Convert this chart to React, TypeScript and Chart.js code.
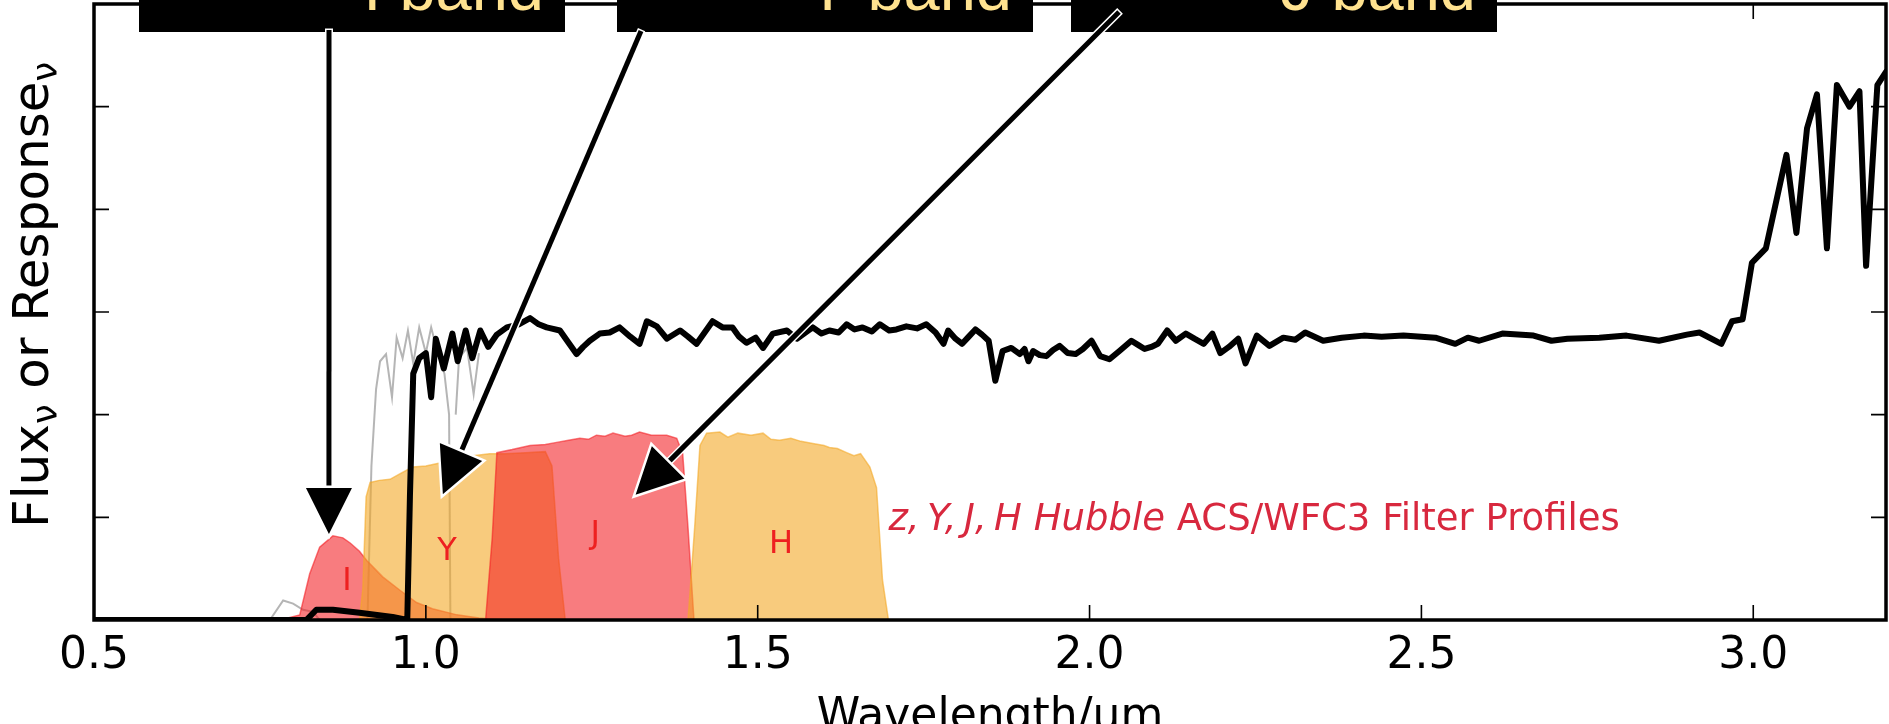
import React, { useEffect, useRef } from "react";
import { Chart, registerables } from "chart.js";

Chart.register(...registerables);

// ---- axis ticks ----
const xTickValues = [0.5, 1.0, 1.5, 2.0, 2.5, 3.0];
const yTickValues = [0, 1, 2, 3, 4, 5, 6];

// ---- observed spectrum (black) ----
const spectrumWavelength = [
  0.5, 0.82, 0.835, 0.86, 0.9, 0.95, 0.972, 0.976, 0.981, 0.99, 1.0, 1.008, 1.015, 1.027, 1.04, 1.048,
  1.06, 1.07, 1.082, 1.094, 1.107, 1.122, 1.14, 1.157, 1.17, 1.182, 1.202, 1.215, 1.227, 1.237, 1.247,
  1.262, 1.277, 1.292, 1.308, 1.322, 1.333, 1.348, 1.363, 1.383, 1.395, 1.408, 1.42, 1.432, 1.447, 1.462,
  1.472, 1.483, 1.497, 1.508, 1.523, 1.544, 1.559, 1.572, 1.583, 1.596, 1.608, 1.622, 1.634, 1.646, 1.658,
  1.672, 1.684, 1.698, 1.709, 1.724, 1.74, 1.754, 1.768, 1.78, 1.787, 1.798, 1.808, 1.818, 1.828, 1.838,
  1.848, 1.858, 1.869, 1.882, 1.895, 1.902, 1.908, 1.915, 1.925, 1.935, 1.945, 1.955, 1.967, 1.979, 1.99,
  2.003, 2.016, 2.03, 2.045, 2.063, 2.073, 2.083, 2.093, 2.103, 2.117, 2.13, 2.145, 2.158, 2.172, 2.185,
  2.197, 2.21, 2.224, 2.235, 2.252, 2.271, 2.292, 2.31, 2.325, 2.352, 2.38, 2.413, 2.44, 2.473, 2.5,
  2.521, 2.551, 2.57, 2.587, 2.622, 2.669, 2.696, 2.72, 2.768, 2.809, 2.858, 2.9, 2.919, 2.952, 2.968,
  2.984, 2.998, 3.019, 3.05, 3.065, 3.081, 3.096, 3.111, 3.126, 3.145, 3.16, 3.17, 3.187, 3.2,
];
const spectrumFlux = [
  0, 0, 0.1, 0.1, 0.07, 0.03, 0.0, 1.2, 2.4, 2.55, 2.6, 2.17, 2.74, 2.45, 2.79, 2.52,
  2.82, 2.55, 2.82, 2.66, 2.78, 2.85, 2.88, 2.94, 2.88, 2.85, 2.82, 2.7, 2.59, 2.66, 2.72,
  2.79, 2.8, 2.85, 2.76, 2.69, 2.91, 2.86, 2.74, 2.82, 2.76, 2.69, 2.8, 2.91, 2.85, 2.85,
  2.76, 2.7, 2.75, 2.65, 2.79, 2.82, 2.74, 2.8, 2.85, 2.79, 2.82, 2.8, 2.88, 2.83, 2.85,
  2.81, 2.88, 2.82, 2.83, 2.86, 2.84, 2.88, 2.8, 2.69, 2.82, 2.74, 2.69, 2.76, 2.83, 2.78,
  2.72, 2.33, 2.62, 2.65, 2.59, 2.64, 2.52, 2.62, 2.58, 2.57, 2.63, 2.67, 2.6, 2.59, 2.64,
  2.72, 2.57, 2.54, 2.62, 2.72, 2.68, 2.64, 2.66, 2.69, 2.82, 2.72, 2.79, 2.74, 2.69, 2.79,
  2.6, 2.66, 2.74, 2.5, 2.77, 2.67, 2.75, 2.73, 2.8, 2.72, 2.75, 2.77, 2.76, 2.77, 2.76,
  2.75, 2.69, 2.75, 2.72, 2.79, 2.77, 2.72, 2.74, 2.75, 2.77, 2.72, 2.78, 2.8, 2.69, 2.91,
  2.93, 3.48, 3.62, 4.53, 3.77, 4.79, 5.12, 3.62, 5.21, 5.0, 5.15, 3.45, 5.21, 5.34,
];

// ---- comparison template (thin grey) ----
const templateWavelength = [
  0.5, 0.765, 0.785, 0.8, 0.815, 0.83, 0.84, 0.912, 0.918, 0.925, 0.931, 0.94, 0.949, 0.956, 0.965,
  0.973, 0.981, 0.99, 1.0, 1.008, 1.018, 1.028, 1.035, 1.037, 1.04, 1.045, 1.05, 1.062, 1.072, 1.08,
];
const templateFlux = [
  0, 0, 0.19, 0.16, 0.1, 0.08, 0, 0, 1.5, 2.25, 2.52, 2.59, 2.17, 2.75, 2.55,
  2.82, 2.5, 2.85, 2.6, 2.85, 2.6, 2.4, 2.0, 0, null, 2.0, 2.55, 2.65, 2.2, 2.6,
];

// ---- filter response curves ----
const filterIWavelength = [0.78, 0.81, 0.825, 0.84, 0.86, 0.875, 0.886, 0.9, 0.911, 0.935, 0.961, 0.986, 1.01, 1.047, 1.08, 1.12];
const filterIResponse = [0, 0.05, 0.45, 0.71, 0.82, 0.8, 0.75, 0.67, 0.58, 0.42, 0.29, 0.17, 0.11, 0.05, 0.02, 0];

const filterYWavelength = [0.9, 0.905, 0.91, 0.916, 0.93, 0.946, 0.96, 0.98, 1.0, 1.021, 1.045, 1.071, 1.096, 1.12, 1.15, 1.18, 1.19, 1.2, 1.21];
const filterYResponse = [0, 0.3, 1.2, 1.34, 1.36, 1.37, 1.42, 1.49, 1.5, 1.53, 1.57, 1.6, 1.62, 1.62, 1.63, 1.64, 1.5, 0.6, 0];

const filterJWavelength = [1.09, 1.1, 1.107, 1.13, 1.157, 1.18, 1.197, 1.215, 1.232, 1.245, 1.257, 1.27, 1.282, 1.3, 1.31, 1.322, 1.34, 1.363, 1.378, 1.387, 1.395, 1.404];
const filterJResponse = [0, 0.8, 1.63, 1.66, 1.7, 1.71, 1.73, 1.75, 1.77, 1.76, 1.8, 1.79, 1.82, 1.79, 1.8, 1.83, 1.8, 1.8, 1.77, 1.62, 0.9, 0];

const filterHWavelength = [1.395, 1.405, 1.413, 1.423, 1.443, 1.455, 1.47, 1.49, 1.508, 1.52, 1.533, 1.55, 1.565, 1.583, 1.6, 1.608, 1.62, 1.634, 1.645, 1.655, 1.669, 1.679, 1.688, 1.697];
const filterHResponse = [0, 0.9, 1.7, 1.82, 1.83, 1.78, 1.82, 1.8, 1.82, 1.76, 1.75, 1.77, 1.74, 1.72, 1.7, 1.68, 1.67, 1.63, 1.6, 1.62, 1.49, 1.29, 0.39, 0];

// ---- filter letters (placed in data coordinates) ----
const filterLetters = ["I", "Y", "J", "H"];
const filterLetterWavelength = [0.881, 1.032, 1.255, 1.535];
const filterLetterLevel = [0.37, 0.67, 0.83, 0.73];

// ---- caption anchor ----
const captionItalic = "z,\u2009Y,\u2009J,\u2009H Hubble";
const captionRegular = " ACS/WFC3 Filter Profiles";
const captionWavelength = 1.697;
const captionLevel = 0.876;

// ---- call-outs: band names and the points their arrows aim at ----
const calloutLabels = ["I band", "Y band", "J band"];
const calloutTipWavelength = [0.854, 1.024, 1.313];
const calloutTipLevel = [0.81, 1.2, 1.2];

// layout of the call-out boxes (pixels)
const calloutBoxes = [
  { left: 139, right: 565 },
  { left: 617, right: 1033 },
  { left: 1071, right: 1497 },
];
const calloutStarts = [
  { x: 329, y: 30 },
  { x: 641, y: 31 },
  { x: 1119, y: 12 },
];

const WIDTH = 1889;
const HEIGHT = 724;
const FONT = '"DejaVu Sans", "Liberation Sans", sans-serif';

const toPoints = (xs: number[], ys: (number | null)[]) => xs.map((x, i) => ({ x, y: ys[i] }));

const ORANGE_FILL = "rgba(243,168,38,0.6)";
const PINK_FILL = "rgba(243,30,35,0.58)";

function drawArrow(ctx: CanvasRenderingContext2D, x0: number, y0: number, x1: number, y1: number) {
  const dx = x1 - x0;
  const dy = y1 - y0;
  const len = Math.hypot(dx, dy);
  const ux = dx / len;
  const uy = dy / len;
  const headLen = 50;
  const halfW = 25;
  const bx = x1 - ux * headLen;
  const by = y1 - uy * headLen;
  ctx.save();
  ctx.lineCap = "butt";
  ctx.strokeStyle = "#fff";
  ctx.lineWidth = 8;
  ctx.beginPath();
  ctx.moveTo(x0 - ux * 1.5, y0 - uy * 1.5);
  ctx.lineTo(bx, by);
  ctx.stroke();
  ctx.strokeStyle = "#000";
  ctx.lineWidth = 5;
  ctx.beginPath();
  ctx.moveTo(x0, y0);
  ctx.lineTo(bx + ux * 2, by + uy * 2);
  ctx.stroke();
  ctx.beginPath();
  ctx.moveTo(x1, y1);
  ctx.lineTo(bx - uy * halfW, by + ux * halfW);
  ctx.lineTo(bx + uy * halfW, by - ux * halfW);
  ctx.closePath();
  ctx.fillStyle = "#000";
  ctx.fill();
  ctx.strokeStyle = "#fff";
  ctx.lineWidth = 2.5;
  ctx.lineJoin = "miter";
  ctx.stroke();
  ctx.restore();
}

const decorPlugin = {
  id: "spectrumDecor",
  afterDatasetsDraw(chart: any) {
    const { ctx, chartArea, scales } = chart;
    const { left, right, top, bottom } = chartArea;
    const xs = scales.x;
    const ys = scales.y;
    ctx.save();

    // filter letters
    ctx.font = `32px ${FONT}`;
    ctx.fillStyle = "#ee2020";
    ctx.textAlign = "center";
    ctx.textBaseline = "middle";
    filterLetters.forEach((t, i) => {
      ctx.fillText(t, xs.getPixelForValue(filterLetterWavelength[i]), ys.getPixelForValue(filterLetterLevel[i]));
    });

    // caption
    const cx = xs.getPixelForValue(captionWavelength);
    const cy = ys.getPixelForValue(captionLevel);
    ctx.textAlign = "left";
    ctx.textBaseline = "alphabetic";
    ctx.fillStyle = "#d8283e";
    ctx.font = `italic 37px ${FONT}`;
    ctx.fillText(captionItalic, cx, cy);
    const w = ctx.measureText(captionItalic).width;
    ctx.font = `37px ${FONT}`;
    ctx.fillText(captionRegular, cx + w, cy);

    // frame
    ctx.strokeStyle = "#000";
    ctx.lineWidth = 3.5;
    ctx.strokeRect(left, top, right - left, bottom - top);

    // inward ticks on all four sides
    ctx.lineWidth = 1.6;
    const tl = 15;
    ctx.beginPath();
    xs.ticks.forEach((t: any) => {
      const px = xs.getPixelForValue(t.value);
      if (px <= left + 1 || px >= right - 1) return;
      ctx.moveTo(px, bottom);
      ctx.lineTo(px, bottom - tl);
      ctx.moveTo(px, top);
      ctx.lineTo(px, top + tl);
    });
    ys.ticks.forEach((t: any) => {
      const py = ys.getPixelForValue(t.value);
      if (py <= top + 1 || py >= bottom - 1) return;
      ctx.moveTo(left, py);
      ctx.lineTo(left + tl, py);
      ctx.moveTo(right, py);
      ctx.lineTo(right - tl, py);
    });
    ctx.stroke();
    ctx.restore();
  },
  afterDraw(chart: any) {
    const { ctx, chartArea, scales } = chart;
    const xs = scales.x;
    const ys = scales.y;
    ctx.save();

    // x-axis title
    ctx.fillStyle = "#000";
    ctx.font = `44px ${FONT}`;
    ctx.textAlign = "center";
    ctx.textBaseline = "alphabetic";
    ctx.fillText("Wavelength/\u03bcm", (chartArea.left + chartArea.right) / 2, 729);

    // y-axis title with subscripts
    const parts = [
      { t: "Flux", sub: false },
      { t: "\u03bd", sub: true },
      { t: " or Response", sub: false },
      { t: "\u03bd", sub: true },
    ];
    const mainFont = `50px ${FONT}`;
    const subFont = `35px ${FONT}`;
    let total = 0;
    const widths = parts.map((p) => {
      ctx.font = p.sub ? subFont : mainFont;
      const wd = ctx.measureText(p.t).width;
      total += wd;
      return wd;
    });
    ctx.translate(48, 295);
    ctx.rotate(-Math.PI / 2);
    ctx.textAlign = "left";
    let pos = -total / 2;
    parts.forEach((p, i) => {
      ctx.font = p.sub ? subFont : mainFont;
      ctx.fillText(p.t, pos, p.sub ? 9 : 0);
      pos += widths[i];
    });
    ctx.setTransform(1, 0, 0, 1, 0, 0);

    // call-out boxes
    calloutBoxes.forEach((b, i) => {
      ctx.fillStyle = "#000";
      ctx.fillRect(b.left, 0, b.right - b.left, 32);
      ctx.fillStyle = "#ffe28f";
      ctx.font = '65px "Liberation Sans", Arial, sans-serif';
      ctx.textAlign = "right";
      ctx.textBaseline = "alphabetic";
      ctx.fillText(calloutLabels[i], b.right - 21, 10);
    });

    // call-out arrows
    calloutStarts.forEach((s, i) => {
      const tx = xs.getPixelForValue(calloutTipWavelength[i]);
      const ty = ys.getPixelForValue(calloutTipLevel[i]);
      drawArrow(ctx, s.x, s.y, tx, ty);
    });
    ctx.restore();
  },
};

export default function App() {
  const canvasRef = useRef<HTMLCanvasElement | null>(null);

  useEffect(() => {
    if (!canvasRef.current) return;
    const filterDataset = (label: string, xs: number[], ys: number[], color: string, order: number) => ({
      label,
      data: toPoints(xs, ys),
      backgroundColor: color,
      borderColor: color,
      borderWidth: 1.5,
      pointRadius: 0,
      fill: "origin",
      tension: 0,
      order,
    });

    const chart = new Chart(canvasRef.current, {
      type: "line",
      data: {
        datasets: [
          {
            label: "template",
            data: toPoints(templateWavelength, templateFlux),
            borderColor: "rgba(150,150,150,0.7)",
            borderWidth: 2,
            pointRadius: 0,
            fill: false,
            spanGaps: false,
            tension: 0,
            order: 6,
          },
          filterDataset("I", filterIWavelength, filterIResponse, PINK_FILL, 5),
          filterDataset("Y", filterYWavelength, filterYResponse, ORANGE_FILL, 4),
          filterDataset("J", filterJWavelength, filterJResponse, PINK_FILL, 3),
          filterDataset("H", filterHWavelength, filterHResponse, ORANGE_FILL, 2),
          {
            label: "spectrum",
            data: toPoints(spectrumWavelength, spectrumFlux),
            borderColor: "#000",
            borderWidth: 6,
            borderJoinStyle: "round",
            borderCapStyle: "round",
            pointRadius: 0,
            fill: false,
            tension: 0,
            order: 1,
          },
        ],
      } as any,
      options: {
        responsive: false,
        animation: false,
        events: [],
        layout: { padding: { top: 4, right: 3, left: 0, bottom: 0 } },
        plugins: {
          legend: { display: false },
          tooltip: { enabled: false },
        },
        scales: {
          x: {
            type: "linear",
            min: 0.5,
            max: 3.2,
            afterBuildTicks: (s: any) => {
              s.ticks = xTickValues.map((v) => ({ value: v }));
            },
            afterFit: (s: any) => {
              s.height = 104;
            },
            grid: { display: false, drawTicks: false },
            border: { display: false },
            ticks: {
              color: "#000",
              font: { family: "DejaVu Sans", size: 44 },
              padding: 10,
              maxRotation: 0,
              autoSkip: false,
              callback: (v: any) => Number(v).toFixed(1),
            },
          },
          y: {
            type: "linear",
            min: 0,
            max: 6,
            afterBuildTicks: (s: any) => {
              s.ticks = yTickValues.map((v) => ({ value: v }));
            },
            afterFit: (s: any) => {
              s.width = 94;
            },
            grid: { display: false, drawTicks: false },
            border: { display: false },
            ticks: { display: false },
          },
        },
      } as any,
      plugins: [decorPlugin],
    });
    return () => chart.destroy();
  }, []);

  return (
    <div style={{ position: "absolute", left: 0, top: 0, width: WIDTH, height: HEIGHT, background: "#fff" }}>
      <canvas ref={canvasRef} width={WIDTH} height={HEIGHT} style={{ display: "block" }} />
    </div>
  );
}
